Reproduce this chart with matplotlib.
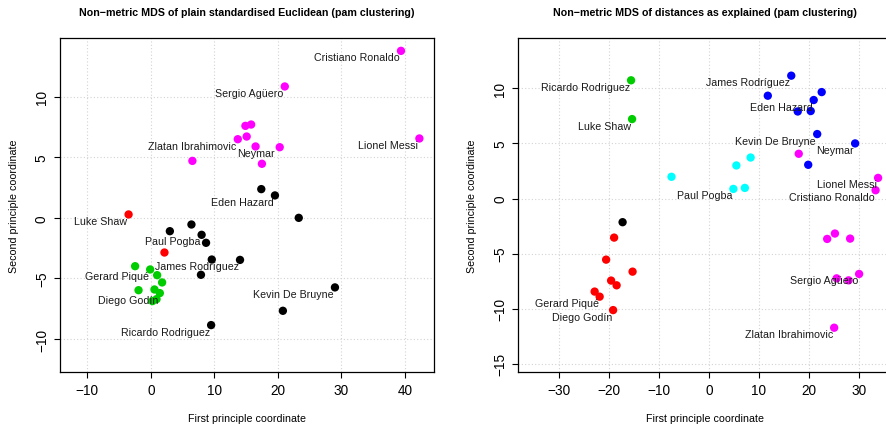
import matplotlib
matplotlib.use("Agg")
import matplotlib.pyplot as plt

plt.rcParams['font.family'] = ['Liberation Sans', 'DejaVu Sans']

# ---------------- Left panel data ----------------
left_x = [39.4, 21.1, 14.9, 15.8, 13.7, 15.1, 16.5, 20.3, 6.55, 17.5, 42.3,
          17.4, 19.55, 23.3, 6.4, 3.0, 8.0, 8.7, 9.6, 14.05, 7.9, 29.0, 20.8, 9.5,
          -3.5, 2.15,
          -2.47, -0.1, 1.0, 1.78, -1.93, 0.58, 1.42, 0.9, 0.26]
left_y = [13.78, 10.84, 7.59, 7.70, 6.49, 6.71, 5.89, 5.83, 4.70, 4.46, 6.55,
          2.37, 1.85, 0.0, -0.55, -1.10, -1.40, -2.06, -3.44, -3.47, -4.70, -5.74, -7.67, -8.85,
          0.28, -2.86,
          -3.99, -4.26, -4.73, -5.33, -5.97, -5.91, -6.21, -6.71, -6.87]
left_cluster = ['magenta'] * 11 + ['black'] * 13 + ['red'] * 2 + ['green3'] * 9
left_labels = {0: "Cristiano Ronaldo", 1: "Sergio Agüero", 4: "Zlatan Ibrahimovic",
               6: "Neymar", 10: "Lionel Messi", 12: "Eden Hazard", 16: "Paul Pogba",
               19: "James Rodríguez", 21: "Kevin De Bruyne", 23: "Ricardo Rodriguez",
               24: "Luke Shaw", 27: "Gerard Piqué", 32: "Diego Godín"}
left_centered = {6}
left_xticks = [-10, 0, 10, 20, 30, 40]
left_yticks = [-10, -5, 0, 5, 10]

# ---------------- Right panel data ----------------
right_x = [-15.6, -15.4,
           16.5, 11.8, 22.6, 21.0, 17.8, 20.4, 21.7, 29.3, 19.9,
           18.0, 33.9, 33.4, 23.7, 25.25, 28.3, 30.1, 25.6, 28.0, 25.1,
           -7.5, 5.5, 8.36, 4.9, 7.2,
           -17.3,
           -19.0, -20.6, -15.3, -19.6, -18.5, -22.9, -21.9, -19.2]
right_y = [10.73, 7.21,
           11.15, 9.33, 9.66, 8.94, 7.9, 7.94, 5.85, 5.0, 3.06,
           4.06, 1.87, 0.75, -3.67, -3.18, -3.64, -6.85, -7.25, -7.43, -11.73,
           1.97, 3.0, 3.72, 0.87, 0.96,
           -2.15,
           -3.55, -5.55, -6.64, -7.45, -7.88, -8.45, -8.91, -10.13]
right_cluster = (['green3'] * 2 + ['blue'] * 9 + ['magenta'] * 10 + ['cyan'] * 5
                 + ['black'] * 1 + ['red'] * 8)
right_labels = {0: "Ricardo Rodriguez", 1: "Luke Shaw", 2: "James Rodríguez",
                5: "Eden Hazard", 8: "Kevin De Bruyne", 9: "Neymar",
                12: "Lionel Messi", 13: "Cristiano Ronaldo", 17: "Sergio Agüero",
                20: "Zlatan Ibrahimovic", 24: "Paul Pogba", 33: "Gerard Piqué",
                34: "Diego Godín"}
right_centered = set()
right_xticks = [-30, -20, -10, 0, 10, 20, 30]
right_yticks = [-15, -10, -5, 0, 5, 10]

titles = ["Non\u2212metric MDS of plain standardised Euclidean (pam clustering)",
          "Non\u2212metric MDS of distances as explained (pam clustering)"]
xlabel = "First principle coordinate"
ylabel = "Second principle coordinate"

palette = {'black': '#000000', 'red': '#FF0000', 'green3': '#00CD00',
           'blue': '#0000FF', 'cyan': '#00FFFF', 'magenta': '#FF00FF'}

W, H = 886, 427
fig = plt.figure(figsize=(W / 100, H / 100), dpi=100)

ax_w = 374 / W
ax_h = 334 / H
ax_b = (H - 373) / H
axL = fig.add_axes([60 / W, ax_b, ax_w, ax_h])
axR = fig.add_axes([518.3 / W, ax_b, ax_w, ax_h])

panels = [
    (axL, left_x, left_y, left_cluster, left_labels, left_centered,
     left_xticks, left_yticks, (-14.3, 44.6), (-12.72, 14.84)),
    (axR, right_x, right_y, right_cluster, right_labels, right_centered,
     right_xticks, right_yticks, (-38.2, 36.75), (-15.75, 14.57)),
]

for i, (ax, xs, ys, cl, labs, cent, xt, yt, xl, yl) in enumerate(panels):
    ax.set_xlim(*xl)
    ax.set_ylim(*yl)
    ax.set_xticks(xt)
    ax.set_yticks(yt)
    ax.set_xticklabels([str(v).replace('-', '\u2212') for v in xt])
    ax.set_yticklabels([str(v).replace('-', '\u2212') for v in yt],
                       rotation=90, va='center')
    ax.tick_params(axis='both', direction='out', length=4, width=0.8,
                   labelsize=9.8, pad=4, colors='black')
    ax.grid(True, color='#D3D3D3', linestyle=(0, (1, 2)), linewidth=0.8)
    ax.set_axisbelow(True)
    for s in ax.spines.values():
        s.set_linewidth(0.9)
        s.set_color('black')
    ax.scatter(xs, ys, s=36, c=[palette[c] for c in cl], edgecolors='none',
               zorder=3, clip_on=False)
    for idx, name in labs.items():
        if idx in cent:
            ax.annotate(name, (xs[idx], ys[idx]), xytext=(0, -5),
                        textcoords='offset points', ha='center', va='center',
                        fontsize=7.7, color='#1a1a1a', zorder=4)
        else:
            ax.annotate(name, (xs[idx], ys[idx]), xytext=(-0.8, -4.7),
                        textcoords='offset points', ha='right', va='center',
                        fontsize=7.7, color='#1a1a1a', zorder=4)
    ax.text(0.5, 1 + 26 / 334, titles[i], transform=ax.transAxes,
            ha='center', va='center', fontsize=7.7, fontweight='bold')
    ax.text(0.5, -46 / 334, xlabel, transform=ax.transAxes,
            ha='center', va='center', fontsize=7.7)
    ax.text(-46 / 374, 0.5, ylabel, transform=ax.transAxes, rotation=90,
            ha='center', va='center', fontsize=7.7)

fig.savefig("out.png", dpi=100)
